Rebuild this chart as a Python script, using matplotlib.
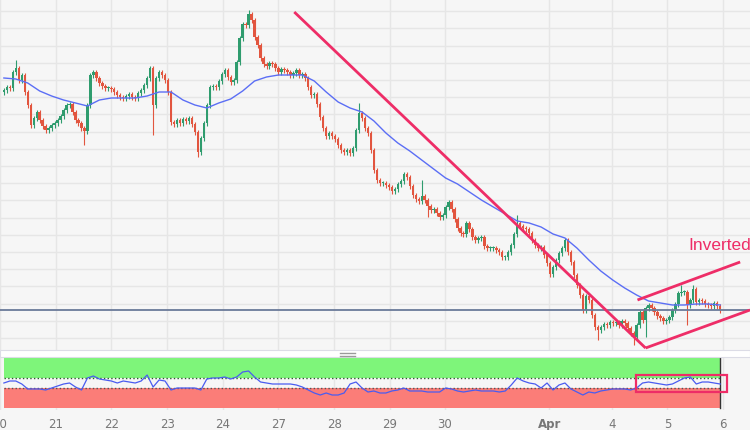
import numpy as np
import matplotlib
matplotlib.use("Agg")
import matplotlib.pyplot as plt
from matplotlib.patches import Rectangle
from matplotlib.lines import Line2D

# closing levels, one candle per bar (open = previous close)
close = [
    260, 263, 262, 278, 282, 270, 275, 258, 245, 225,
    232, 238, 230, 224, 220, 222, 225, 227, 230, 234,
    240, 245, 246, 238, 230, 227, 222, 219, 245, 275,
    278, 272, 267, 264, 262, 262, 261, 258, 255, 253,
    252, 254, 256, 253, 252, 257, 260, 265, 272, 282,
    245, 272, 278, 275, 270, 258, 228, 226, 230, 227,
    231, 229, 232, 226, 218, 198, 212, 227, 245, 263,
    264, 263, 269, 276, 280, 273, 268, 270, 288, 312,
    326, 325, 336, 330, 313, 305, 292, 286, 284, 287,
    286, 282, 278, 281, 280, 278, 275, 277, 280, 275,
    276, 272, 263, 255, 256, 246, 233, 222, 214, 217,
    214, 211, 205, 200, 198, 200, 197, 202, 220, 237,
    232, 222, 217, 200, 180, 170, 167, 167, 165, 163,
    159, 161, 166, 169, 176, 173, 164, 155, 151, 149,
    154, 150, 144, 140, 141, 137, 133, 135, 143, 148,
    141, 131, 122, 117, 116, 127, 121, 113, 110, 112,
    113, 104, 102, 102, 102, 100, 98, 93, 93, 98,
    105, 116, 127, 124, 122, 121, 117, 110, 105, 102,
    103, 95, 87, 76, 83, 90, 97, 102, 110, 98,
    88, 75, 65, 55, 40, 54, 50, 35, 23, 20,
    23, 26, 25, 28, 27, 28, 25, 29, 27, 22,
    17, 13, 25, 38, 30, 42, 45, 42, 38, 34,
    32, 29, 30, 33, 40, 46, 57, 58, 58, 45,
    50, 61, 48, 50, 49, 46, 45, 44, 47, 44,
    40,
]
first_open = 258

# notable wicks
hi_idx = [4, 82, 119, 140, 172, 227, 231]
hi_val = [290, 340, 247, 170, 135, 65, 65]
lo_idx = [27, 50, 65, 142, 199, 211, 215, 229]
lo_val = [205, 215, 193, 133, 10, 5, 13, 25]

# moving average, every 4th candle
ma = [272, 271, 267, 259, 254, 250, 247, 244, 250, 252, 252, 252, 254, 258, 258,
      250, 245, 242, 247, 251, 259, 269, 273, 275, 275, 275, 269, 258, 248, 242,
      238, 229, 217, 207, 199, 190, 181, 172, 166, 158, 150, 143, 136, 129, 127,
      123, 116, 112, 102, 90, 79, 70, 62, 55, 49, 47, 45, 45, 46, 46, 45]

# RSI, every 2nd candle
rsi = [50, 54, 54, 48, 38, 38, 38, 36, 40, 44, 48, 50, 42, 36, 60, 64, 58, 56, 54, 50,
       54, 52, 50, 54, 66, 42, 56, 54, 36, 40, 40, 40, 40, 36, 58, 60, 60, 62, 58, 62,
       72, 74, 62, 52, 50, 48, 48, 48, 48, 46, 42, 36, 30, 26, 30, 26, 26, 30, 48, 52,
       40, 32, 34, 30, 30, 34, 36, 40, 34, 34, 34, 32, 32, 32, 40, 38, 34, 32, 34, 36,
       34, 34, 34, 32, 34, 46, 60, 54, 50, 48, 40, 50, 36, 46, 50, 38, 32, 26, 32, 30,
       34, 36, 38, 38, 38, 36, 40, 50, 52, 50, 48, 46, 48, 54, 60, 62, 48, 52, 52, 50,
       48]

# drawn annotations
down_line = ([97.3, 215], [338, 2])
low_line = ([215, 250], [2, 40])
up_line = ([212.3, 246.7], [50, 88])
support = 40
rsi_box = (211.7, 242.3, 32, 66)

tick_pos = [-1.3, 17.3, 36, 54.7, 73.3, 92, 110.7, 129.3, 147.7, 182.7, 203.7, 222.3, 241]
tick_lab = ["20", "21", "22", "23", "24", "27", "28", "29", "30", "Apr", "4", "5", "6"]

green = "#2f9c6e"
red = "#e2553f"
pink = "#ee2d67"
bg = "#f6f6f6"
grid_c = "#e6e6e6"

fig = plt.figure(figsize=(7.5, 4.3), dpi=100)
fig.patch.set_facecolor(bg)

ax = fig.add_axes([0, 80 / 430, 1, 350 / 430])
ax.set_facecolor(bg)
ax.set_xlim(0, 250)
ax.set_ylim(0, 350)
ax.set_xticks(tick_pos)
ax.set_yticks(np.arange(12, 350, 17.2))
ax.grid(True, color=grid_c, lw=1)
ax.set_axisbelow(True)
ax.tick_params(length=0, labelbottom=False, labelleft=False)
for s in ax.spines.values():
    s.set_visible(False)

x = np.arange(len(close))
opens = [first_open] + close[:-1]
highs = [max(o, c) + 2.5 for o, c in zip(opens, close)]
lows = [min(o, c) - 2.5 for o, c in zip(opens, close)]
for i, v in zip(hi_idx, hi_val):
    highs[i] = v
for i, v in zip(lo_idx, lo_val):
    lows[i] = v
cols = [green if c >= o else red for o, c in zip(opens, close)]
bodies = [max(abs(c - o), 1.0) for o, c in zip(opens, close)]
bottoms = [min(o, c) for o, c in zip(opens, close)]
ax.vlines(x, lows, highs, colors=cols, lw=0.8, zorder=2)
ax.bar(x, bodies, bottom=bottoms, width=0.8, color=cols, lw=0, zorder=3)

ax.plot(np.arange(0, len(close), 4), ma, color="#5b6ef5", lw=1, zorder=4)
ax.axhline(support, color="#6a7a99", lw=1.3, zorder=4)
for lx, ly in (down_line, low_line, up_line):
    ax.plot(lx, ly, color=pink, lw=2, solid_capstyle="butt", zorder=5)
ax.text(229.3, 104, "Inverted", color=pink, fontsize=12.5, family="Liberation Sans",
        va="center", ha="left")

# separator strip
fig.add_artist(Rectangle((0, 73 / 430), 1, 7 / 430, transform=fig.transFigure,
                         facecolor="white", edgecolor="#dcdce6", lw=0.8))
for yy in (353, 355.5):
    fig.add_artist(Line2D([340 / 750, 355 / 750], [1 - yy / 430] * 2,
                          transform=fig.transFigure, color="#9a9a9a", lw=1))

ax2 = fig.add_axes([0, 20 / 430, 1, 53 / 430])
ax2.set_facecolor(bg)
ax2.set_xlim(0, 250)
ax2.set_ylim(-4, 102)
ax2.set_xticks(tick_pos)
ax2.set_xticklabels(tick_lab)
ax2.set_yticks([])
ax2.grid(True, axis="x", color=grid_c, lw=1)
ax2.set_axisbelow(True)
ax2.tick_params(axis="x", length=0, pad=6, labelsize=8.5, labelcolor="#777777")
ax2.get_xticklabels()[9].set_fontweight("bold")
for s in ax2.spines.values():
    s.set_visible(False)

ax2.fill_between([0, 240], 60, 100, color="#7ef57a", lw=0, zorder=1)
ax2.fill_between([0, 240], 0, 40, color="#fb7d78", lw=0, zorder=1)
ax2.plot([0, 240], [60, 60], color="#2d5a2d", ls=":", lw=1, zorder=2)
ax2.plot([0, 240], [40, 40], color="#555555", ls=":", lw=1, zorder=2)
ax2.plot([240, 240], [0, 100], color="#333333", lw=1, zorder=2)
ax2.plot(np.arange(0, len(close), 2), rsi, color="#4a5cf0", lw=0.9, zorder=3)
bx0, bx1, by0, by1 = rsi_box
ax2.add_patch(Rectangle((bx0, by0), bx1 - bx0, by1 - by0, fill=False,
                        edgecolor=pink, lw=1.6, zorder=4, clip_on=False))

fig.savefig("out.png", dpi=100, facecolor=bg)
